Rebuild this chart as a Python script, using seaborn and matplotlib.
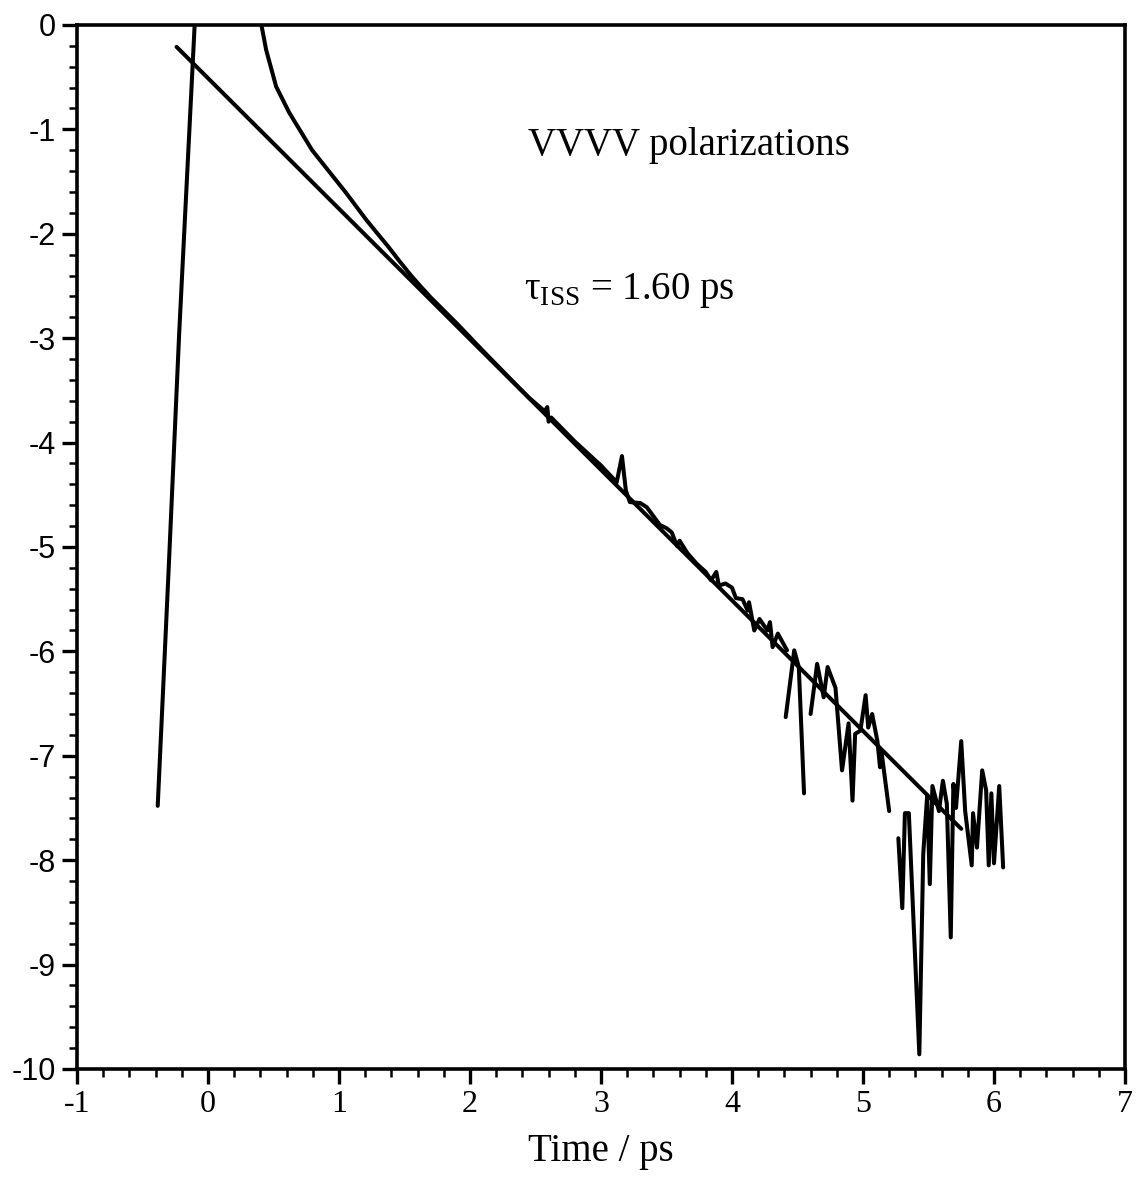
import matplotlib
matplotlib.use("Agg")
import matplotlib.pyplot as plt
from matplotlib.ticker import MultipleLocator
import seaborn as sns

# rising edge of the signal (instrument response)
rise_t = [-0.384, -0.30, -0.22, -0.10]
rise_y = [-7.48, -5.20, -2.95, 0.05]

# single exponential fit, tau = 1.60 ps
fit_t = [-0.24, 5.75]
fit_y = [-0.21, -7.70]

# measured decay, drawn as separate pieces (gaps in the trace)
seg1_t = [0.400, 0.444, 0.52, 0.62, 0.795, 1.055, 1.21, 1.38, 1.46, 1.55, 1.62, 1.70,
          1.78, 1.90, 2.09, 2.30, 2.45, 2.57, 2.59, 2.60]
seg1_y = [0.05, -0.24, -0.59, -0.84, -1.20, -1.61, -1.87, -2.13, -2.26, -2.40, -2.50, -2.61,
          -2.71, -2.86, -3.11, -3.38, -3.57, -3.70, -3.66, -3.80]

seg2_t = [2.62, 2.80, 3.00, 3.12, 3.16, 3.19, 3.22, 3.30, 3.35, 3.45, 3.50, 3.54, 3.58,
          3.60, 3.66, 3.73, 3.80, 3.84, 3.88, 3.90, 3.95, 4.00, 4.03, 4.08, 4.12, 4.13,
          4.17, 4.21, 4.27, 4.29, 4.31, 4.35, 4.42]
seg2_y = [-3.76, -3.99, -4.22, -4.38, -4.13, -4.46, -4.57, -4.58, -4.62, -4.79, -4.82, -4.86, -4.99,
          -4.94, -5.06, -5.16, -5.24, -5.32, -5.24, -5.37, -5.35, -5.39, -5.49, -5.50, -5.61, -5.53,
          -5.80, -5.69, -5.80, -5.72, -5.96, -5.83, -5.99]

seg3_t = [4.41, 4.475, 4.51, 4.55]
seg3_y = [-6.63, -5.99, -6.15, -7.36]

seg4_t = [4.60, 4.65, 4.70, 4.73, 4.79, 4.84, 4.89, 4.92, 4.94, 4.98, 5.02, 5.04, 5.07,
          5.11, 5.13, 5.14, 5.20]
seg4_y = [-6.60, -6.12, -6.44, -6.15, -6.35, -7.14, -6.69, -7.43, -6.79, -6.76, -6.42, -6.73, -6.60,
          -6.86, -7.11, -6.95, -7.53]

seg5_t = [5.27, 5.30, 5.32, 5.35, 5.43, 5.46, 5.49, 5.51, 5.53, 5.58, 5.61, 5.64, 5.67, 5.69,
          5.71, 5.75, 5.78, 5.83, 5.84, 5.87, 5.91, 5.94, 5.96, 5.98, 6.00, 6.04, 6.07]
seg5_y = [-7.79, -8.46, -7.55, -7.55, -9.86, -7.94, -7.38, -8.23, -7.29, -7.53, -7.24, -7.46, -8.74,
          -7.27, -7.50, -6.86, -7.53, -8.05, -7.55, -7.88, -7.14, -7.33, -8.05, -7.36, -8.03, -7.29, -8.07]

x_ticks = [-1, 0, 1, 2, 3, 4, 5, 6, 7]
y_ticks = [0, -1, -2, -3, -4, -5, -6, -7, -8, -9, -10]

sns.set_style("ticks", {'axes.edgecolor': 'black', 'xtick.color': 'black',
                        'ytick.color': 'black', 'text.color': 'black',
                        'axes.labelcolor': 'black'})
plt.rcParams['font.family'] = ['Liberation Serif', 'DejaVu Serif']
plt.rcParams['mathtext.fontset'] = 'custom'
plt.rcParams['mathtext.rm'] = 'Liberation Serif'
plt.rcParams['axes.unicode_minus'] = False

fig = plt.figure(figsize=(11.36, 11.77), dpi=100)
ax = fig.add_axes([0.0678, 0.0918, 0.9225, 0.887])

lw = 2.9
sns.lineplot(x=rise_t, y=rise_y, ax=ax, color='black', lw=lw, sort=False, estimator=None)
sns.lineplot(x=fit_t, y=fit_y, ax=ax, color='black', lw=lw, sort=False, estimator=None)
for t, y in [(seg1_t, seg1_y), (seg2_t, seg2_y), (seg3_t, seg3_y),
             (seg4_t, seg4_y), (seg5_t, seg5_y)]:
    sns.lineplot(x=t, y=y, ax=ax, color='black', lw=lw, sort=False, estimator=None)

ax.set_xlim(-1, 7)
ax.set_ylim(-10, 0)
ax.set_xticks(x_ticks)
ax.set_yticks(y_ticks)
ax.set_xticklabels([str(v) for v in x_ticks], fontsize=23)
# y labels in the scan are a sans face
ax.set_yticklabels([str(v) for v in y_ticks], fontsize=22, family=['Liberation Sans', 'DejaVu Sans'])
ax.xaxis.set_minor_locator(MultipleLocator(0.2))
ax.yaxis.set_minor_locator(MultipleLocator(0.2))
ax.tick_params(which='major', direction='out', length=11, width=2.4, pad=4,
               top=False, right=False, colors='black')
ax.tick_params(which='minor', direction='out', length=6, width=1.8, top=False, right=False,
               colors='black')

for s in ax.spines.values():
    s.set_linewidth(2.6)
    s.set_color('black')
    s.set_visible(True)

ax.set_xlabel('Time / ps', fontsize=28, labelpad=10, color='black')
ax.set_ylabel('')

ax.text(2.44, -1.15, 'VVVV polarizations', fontsize=28, va='center', ha='left', color='black')
ax.text(2.41, -2.54, r'τ$_{\mathrm{ISS}}$ = 1.60 ps', fontsize=28, va='center', ha='left',
        color='black')

fig.savefig('out.png', dpi=100)
